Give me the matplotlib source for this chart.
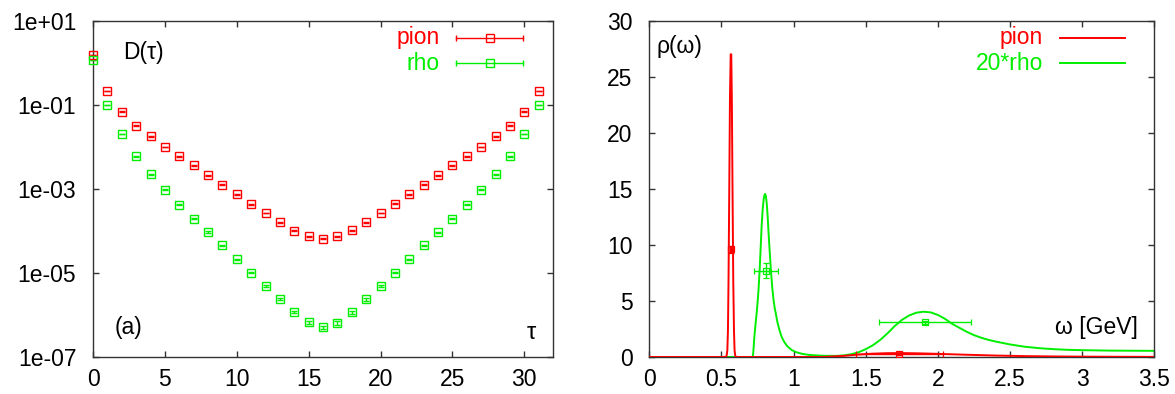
import matplotlib
matplotlib.use("Agg")
import matplotlib.pyplot as plt
from matplotlib.ticker import FixedLocator, FuncFormatter, NullLocator
import numpy as np

plt.rcParams['font.family'] = ['Liberation Sans', 'DejaVu Sans']

RED = '#ff0000'
GREEN = '#00ee00'
AXC = '#333333'

# ---- left panel data: correlators D(tau) ----
tau = list(range(32))
pion_D = [1.53, 0.21, 0.069, 0.032, 0.0176, 0.0100, 0.0059, 0.0036, 0.0021, 0.00126,
          7.4e-4, 4.3e-4, 2.66e-4, 1.62e-4, 1.02e-4, 7.4e-5, 6.5e-5, 7.4e-5, 1.04e-4, 1.62e-4,
          2.66e-4, 4.4e-4, 7.4e-4, 1.26e-3, 2.1e-3, 3.6e-3, 5.9e-3, 0.0100, 0.0176, 0.032,
          0.069, 0.21]
rho_D = [1.17, 0.098, 0.020, 0.0059, 0.0022, 9.5e-4, 4.2e-4, 1.95e-4, 9.4e-5, 4.5e-5,
         2.1e-5, 1.02e-5, 4.8e-6, 2.4e-6, 1.18e-6, 6.7e-7, 5.1e-7, 6.5e-7, 1.15e-6, 2.35e-6,
         4.8e-6, 1.02e-5, 2.1e-5, 4.5e-5, 9.3e-5, 1.95e-4, 4.2e-4, 9.5e-4, 2.2e-3, 5.9e-3,
         0.020, 0.098]
pion_rel = [0.01, 0.01, 0.01, 0.01, 0.015, 0.015, 0.015, 0.02, 0.02, 0.02,
            0.02, 0.025, 0.025, 0.025, 0.03, 0.03, 0.03, 0.03, 0.03, 0.025,
            0.025, 0.025, 0.02, 0.02, 0.02, 0.02, 0.015, 0.015, 0.015, 0.01,
            0.01, 0.01]
rho_rel = [0.01, 0.01, 0.01, 0.015, 0.02, 0.02, 0.025, 0.03, 0.03, 0.035,
           0.04, 0.05, 0.06, 0.07, 0.08, 0.09, 0.1, 0.09, 0.08, 0.07,
           0.06, 0.05, 0.04, 0.035, 0.03, 0.03, 0.025, 0.02, 0.02, 0.015,
           0.01, 0.01]

# ---- right panel data: spectral functions ----
w_pion = [0.0, 0.50, 0.533, 0.536, 0.541, 0.545, 0.549, 0.554, 0.559, 0.564, 0.568,
          0.572, 0.577, 0.582, 0.587, 0.591, 0.595, 0.600, 0.603, 0.62, 0.8, 1.2,
          1.35, 1.45, 1.55, 1.65, 1.75, 1.85, 1.95, 2.05, 2.2, 2.4, 2.6, 2.8, 3.0, 3.5]
rho_pion = [0.0, 0.0, 0.02, 0.15, 0.6, 2.3, 6.7, 14.6, 23.1, 27.0, 27.0,
            23.1, 14.6, 6.7, 2.3, 0.6, 0.15, 0.02, 0.0, 0.0, 0.0, 0.0,
            0.1, 0.22, 0.3, 0.34, 0.35, 0.33, 0.3, 0.26, 0.2, 0.13, 0.08, 0.05, 0.03, 0.01]

w_rho = [0.0, 0.70, 0.716, 0.720, 0.724, 0.728, 0.736, 0.744, 0.750, 0.757, 0.765,
         0.772, 0.779, 0.786, 0.793, 0.798, 0.803, 0.808, 0.814, 0.820, 0.826,
         0.834, 0.843, 0.852, 0.862, 0.870, 0.878, 0.888, 0.900, 0.917, 0.935,
         0.955, 0.987, 1.02, 1.06, 1.11, 1.2, 1.3, 1.35, 1.4, 1.45, 1.5,
         1.55, 1.6, 1.65, 1.7, 1.75, 1.8, 1.85, 1.9, 1.95, 2.0,
         2.05, 2.1, 2.15, 2.2, 2.25, 2.3, 2.35, 2.4, 2.5, 2.6,
         2.7, 2.8, 2.9, 3.0, 3.2, 3.5]
rho_rho20 = [0.0, 0.0, 0.0, 0.3, 1.0, 1.8, 2.9, 3.9, 4.8, 6.0, 7.8,
             9.8, 11.8, 13.2, 14.1, 14.45, 14.55, 14.35, 13.7, 12.6, 11.2,
             9.5, 7.7, 6.2, 5.0, 4.3, 3.8, 3.1, 2.5, 1.8, 1.35,
             0.98, 0.62, 0.42, 0.28, 0.18, 0.11, 0.1, 0.15, 0.25, 0.42, 0.7,
             1.05, 1.52, 2.1, 2.75, 3.3, 3.7, 3.95, 4.04, 3.98, 3.75,
             3.4, 2.95, 2.6, 2.25, 1.95, 1.72, 1.53, 1.38, 1.12, 0.92,
             0.79, 0.7, 0.64, 0.61, 0.57, 0.55]

# points with error bars on the spectral functions (lower / upper errors)
pts_pion_w = [0.568, 1.733]
pts_pion_r = [9.6, 0.27]
pts_pion_xerr = [[0.008, 0.303], [0.008, 0.300]]
pts_pion_yerr = [0.3, 0.05]
pts_rho_w = [0.809, 1.913]
pts_rho_r = [7.7, 3.1]
pts_rho_xerr = [[0.081, 0.319], [0.085, 0.316]]
pts_rho_yerr = [[0.68, 0.12], [0.66, 0.12]]

fig = plt.figure(figsize=(11.75, 3.94), dpi=100)
ax1 = fig.add_axes([93 / 1175, 1 - 357 / 394, 460 / 1175, 336.3 / 394])
ax2 = fig.add_axes([649.3 / 1175, 1 - 357 / 394, 505 / 1175, 336.3 / 394])

for ax in (ax1, ax2):
    for s in ax.spines.values():
        s.set_color(AXC)
        s.set_linewidth(1.0)
    ax.tick_params(direction='in', length=4, width=1, color=AXC, top=True, right=True,
                   labelsize=16.5, labelcolor='black')
    ax.tick_params(axis='x', pad=8)
    ax.tick_params(axis='y', pad=12)

# ---- left ----
pion_err = np.array(pion_D) * np.array(pion_rel)
rho_err = np.array(rho_D) * np.array(rho_rel)
ax1.errorbar(tau, pion_D, yerr=pion_err, fmt='s', mfc='none', mec=RED, ecolor=RED,
             ms=5.5, mew=1, elinewidth=1, capsize=2.5, capthick=1.2, clip_on=False, zorder=3)
ax1.errorbar(tau, rho_D, yerr=rho_err, fmt='s', mfc='none', mec=GREEN, ecolor=GREEN,
             ms=5.5, mew=1, elinewidth=1, capsize=2.5, capthick=1.2, clip_on=False, zorder=3)
ax1.set_yscale('log')
ax1.set_xlim(0, 32)
ax1.set_ylim(1e-7, 10)
ax1.xaxis.set_major_locator(FixedLocator([0, 5, 10, 15, 20, 25, 30]))
ax1.xaxis.set_minor_locator(NullLocator())
ax1.yaxis.set_major_locator(FixedLocator([1e-7, 1e-5, 1e-3, 1e-1, 1e1]))
ax1.yaxis.set_minor_locator(NullLocator())
ax1.yaxis.set_major_formatter(FuncFormatter(lambda v, p: '{:.0e}'.format(v)))

ax1.text(0.065, 0.904, 'D(τ)', transform=ax1.transAxes, fontsize=16.5, va='center', ha='left')
ax1.text(0.048, 0.089, '(a)', transform=ax1.transAxes, fontsize=16.5, va='center', ha='left')
ax1.text(0.952, 0.071, 'τ', transform=ax1.transAxes, fontsize=17, va='center', ha='center')

# legend drawn gnuplot style: label then sample with x error bar
for lab, col, yy in (('pion', RED, 0.9486), ('rho', GREEN, 0.874)):
    ax1.text(0.754, yy, lab, color=col, transform=ax1.transAxes, fontsize=16.5,
             ha='right', va='center')
    ax1.plot([0.789, 0.935], [yy, yy], color=col, lw=1, transform=ax1.transAxes)
    ax1.plot([0.789, 0.935], [yy, yy], ls='none', marker='|', ms=5, mew=1, color=col,
             transform=ax1.transAxes)
    ax1.plot([0.862], [yy], ls='none', marker='s', ms=5.5, mfc='none', mec=col, mew=1,
             transform=ax1.transAxes)

# ---- right ----
ax2.plot(w_pion, rho_pion, color=RED, lw=1.4, zorder=3)
ax2.plot(w_rho, rho_rho20, color=GREEN, lw=1.4, zorder=2)
ax2.errorbar(pts_pion_w, pts_pion_r, xerr=pts_pion_xerr, yerr=pts_pion_yerr,
             fmt='s', mfc='none', mec=RED, ecolor=RED, ms=5, mew=0.9, elinewidth=1,
             capsize=2.5, capthick=1, zorder=4)
ax2.errorbar(pts_rho_w, pts_rho_r, xerr=pts_rho_xerr, yerr=pts_rho_yerr,
             fmt='s', mfc='none', mec=GREEN, ecolor=GREEN, ms=5, mew=0.9, elinewidth=1,
             capsize=2.5, capthick=1, zorder=4)
ax2.set_xlim(0, 3.5)
ax2.set_ylim(0, 30)
ax2.xaxis.set_major_locator(FixedLocator([0, 0.5, 1, 1.5, 2, 2.5, 3, 3.5]))
ax2.xaxis.set_major_formatter(FuncFormatter(lambda v, p: '{:g}'.format(v)))
ax2.yaxis.set_major_locator(FixedLocator([0, 5, 10, 15, 20, 25, 30]))

ax2.text(0.015, 0.922, 'ρ(ω)', transform=ax2.transAxes, fontsize=16.5, va='center', ha='left')
ax2.text(0.968, 0.089, 'ω [GeV]', transform=ax2.transAxes, fontsize=16.5, va='center', ha='right')

for lab, col, yy in (('pion', RED, 0.9486), ('20*rho', GREEN, 0.874)):
    ax2.text(0.780, yy, lab, color=col, transform=ax2.transAxes, fontsize=16.5,
             ha='right', va='center')
    ax2.plot([0.814, 0.941], [yy, yy], color=col, lw=1.4, transform=ax2.transAxes)

fig.savefig('out.png', dpi=100)
